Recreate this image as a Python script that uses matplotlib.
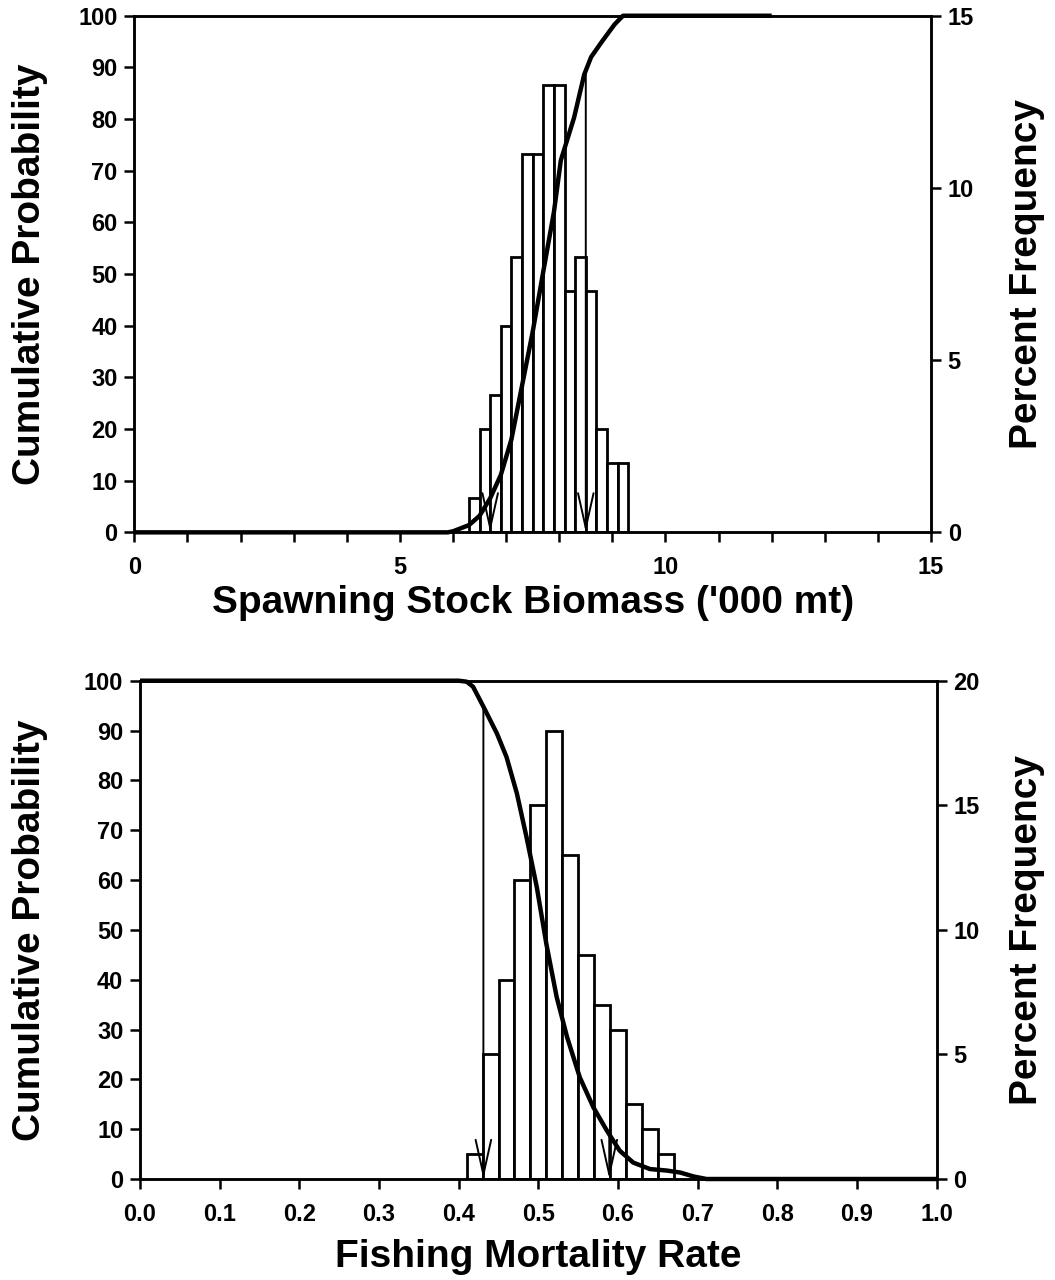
"""Cumulative probability and percent frequency of SSB and fishing mortality."""
import matplotlib
matplotlib.use("Agg")
import matplotlib.pyplot as plt
import numpy as np
from matplotlib.ticker import FormatStrFormatter, MultipleLocator

# --- Spawning stock biomass ('000 mt) ---
ssb_bin_centers = [6.4, 6.6, 6.8, 7.0, 7.2, 7.4, 7.6, 7.8, 8.0, 8.2, 8.4, 8.6, 8.8, 9.0, 9.2]
ssb_pct_freq = [1, 3, 4, 6, 8, 11, 11, 13, 13, 7, 8, 7, 3, 2, 2]
ssb_cum_x = [0.0, 5.9, 6.0, 6.3, 6.5, 6.7, 6.9, 7.1, 7.3, 7.5, 7.7, 7.9, 8.03,
             8.28, 8.47, 8.6, 8.79, 9.04, 9.2, 12.0]
ssb_cum_y = [0.0, 0.0, 0.2, 1.4, 3.2, 6.6, 11.1, 18.0, 28.4, 38.8, 50.5, 62.0, 72.0,
             80.3, 88.6, 92.0, 94.8, 98.3, 100.0, 100.0]
ssb_arrows = [6.7, 8.5]

# --- Fishing mortality rate ---
f_bin_centers = [0.42, 0.44, 0.46, 0.48, 0.50, 0.52, 0.54, 0.56, 0.58, 0.60, 0.62, 0.64, 0.66]
f_pct_freq = [1, 5, 8, 12, 15, 18, 13, 9, 7, 6, 3, 2, 1]
f_cum_x = [0.0, 0.40, 0.410, 0.418, 0.431, 0.448, 0.460, 0.473, 0.485, 0.498, 0.510,
           0.523, 0.536, 0.552, 0.569, 0.586, 0.602, 0.619, 0.640, 0.661, 0.678,
           0.695, 0.711, 1.0]
f_cum_y = [100.0, 100.0, 99.8, 98.8, 94.8, 89.4, 84.7, 77.4, 68.7, 58.6, 47.2,
           36.5, 28.5, 20.4, 14.4, 9.7, 5.7, 3.3, 2.0, 1.7, 1.3, 0.5, 0.0, 0.0]
f_arrows = [0.431, 0.589]

FONT = "Liberation Sans"
plt.rcParams["font.family"] = [FONT, "DejaVu Sans"]
plt.rcParams["font.weight"] = "bold"
LABEL_SIZE = 28
TICK_SIZE = 17


def _panel(ax, centers, freq, width, cum_x, cum_y, arrows, xlim, ylim_right,
           right_step, xlabel, xlabel_y, left_lab_x, right_lab_x):
    ax2 = ax.twinx()
    ax2.bar(centers, freq, width, facecolor="white", edgecolor="black", linewidth=2.0)
    # curve and arrows sit above the bars
    ax.set_zorder(ax2.get_zorder() + 1)
    ax.patch.set_visible(False)

    ax.plot(cum_x, cum_y, color="black", linewidth=3.2, clip_on=False,
            solid_capstyle="butt")
    for xa in arrows:
        top = float(np.interp(xa, cum_x, cum_y))
        ax.annotate("", xy=(xa, 0), xytext=(xa, top),
                    arrowprops=dict(arrowstyle="->,head_length=1.25,head_width=0.28",
                                    color="black", lw=1.4, mutation_scale=20,
                                    shrinkA=0, shrinkB=0))

    ax.set_xlim(*xlim)
    ax.set_ylim(0, 100)
    ax2.set_ylim(0, ylim_right)
    ax.yaxis.set_major_locator(MultipleLocator(10))
    ax2.yaxis.set_major_locator(MultipleLocator(right_step))

    for a in (ax, ax2):
        for spine in a.spines.values():
            spine.set_linewidth(1.8)
        a.tick_params(which="both", direction="out", length=7, width=1.8,
                      labelsize=TICK_SIZE, pad=5)
    ax.tick_params(axis="x", which="both", pad=10)

    ax.set_xlabel(xlabel, fontsize=LABEL_SIZE, fontweight="bold", va="center")
    ax.xaxis.set_label_coords(0.5, xlabel_y)
    ax.set_ylabel("Cumulative Probability", fontsize=LABEL_SIZE, fontweight="bold", va="center")
    ax.yaxis.set_label_coords(left_lab_x, 0.5)
    ax2.set_ylabel("Percent Frequency", fontsize=LABEL_SIZE, fontweight="bold", va="center")
    ax2.yaxis.set_label_coords(right_lab_x, 0.5)
    return ax2


fig = plt.figure(figsize=(10.55, 12.8), dpi=100)
ax_top = fig.add_axes([0.1273, 0.5841, 0.7552, 0.4036])
ax_bot = fig.add_axes([0.1327, 0.0789, 0.7552, 0.3893])

_panel(ax_top, ssb_bin_centers, ssb_pct_freq, 0.2, ssb_cum_x, ssb_cum_y, ssb_arrows,
       (0, 15), 15, 5, "Spawning Stock Biomass ('000 mt)", -0.137, -0.131, 1.12)
ax_top.xaxis.set_major_locator(MultipleLocator(5))
ax_top.xaxis.set_minor_locator(MultipleLocator(1))

_panel(ax_bot, f_bin_centers, f_pct_freq, 0.02, f_cum_x, f_cum_y, f_arrows,
       (0, 1), 20, 5, "Fishing Mortality Rate", -0.157, -0.138, 1.113)
ax_bot.set_xticks(np.round(np.arange(0, 1.01, 0.1), 1))
ax_bot.xaxis.set_major_formatter(FormatStrFormatter("%.1f"))

fig.savefig("out.png", dpi=100)
